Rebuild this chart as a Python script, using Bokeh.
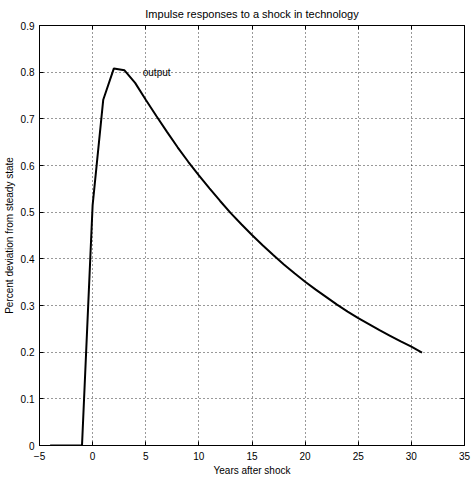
from bokeh.plotting import figure
from bokeh.models import Range1d, LinearAxis, FixedTicker, CustomJSTickFormatter, ColumnDataSource
from bokeh.core.properties import value
from bokeh.embed import file_html
from bokeh.resources import INLINE

# Data
years = [-4, -3, -2, -1, 0, 1, 2, 3, 4, 5, 6, 7, 8, 9, 10, 11, 12, 13, 14, 15,
         16, 17, 18, 19, 20, 21, 22, 23, 24, 25, 26, 27, 28, 29, 30, 31]
output = [0.0, 0.0, 0.0, 0.0, 0.515, 0.741, 0.808, 0.804, 0.777, 0.741, 0.706,
          0.672, 0.639, 0.608, 0.579, 0.551, 0.524, 0.498, 0.474, 0.451, 0.429,
          0.408, 0.388, 0.369, 0.351, 0.334, 0.318, 0.302, 0.287, 0.273, 0.260,
          0.247, 0.235, 0.223, 0.212, 0.199]
x_ticks = [-5, 0, 5, 10, 15, 20, 25, 30, 35]
y_ticks = [0, 0.1, 0.2, 0.3, 0.4, 0.5, 0.6, 0.7, 0.8, 0.9]
title_text = "Impulse responses to a shock in technology"
x_label = "Years after shock"
y_label = "Percent deviation from steady state"
annot_x = [5]
annot_y = [0.8]
annot_text = ["output"]

FONT = "Liberation Sans"
FS = "10px"

p = figure(width=472, height=478, output_backend="svg", toolbar_location=None,
           x_range=Range1d(-5, 35), y_range=Range1d(0, 0.9),
           min_border_left=38, min_border_right=8, min_border_top=24, min_border_bottom=31,
           x_axis_location="below", y_axis_location="left")

p.title.text = title_text
p.title.align = "center"
p.title.text_font = FONT
p.title.text_font_size = "11px"
p.title.text_font_style = "normal"
p.title.text_color = "black"
p.title.standoff = 11

p.background_fill_color = "white"
p.border_fill_color = "white"
p.outline_line_color = "black"
p.outline_line_width = 1

fmt_y = CustomJSTickFormatter(code="return (Math.round(tick*10)/10).toString();")


def style_axis(ax, ticks):
    ax.ticker = FixedTicker(ticks=ticks)
    ax.major_tick_in = 4
    ax.major_tick_out = 0
    ax.minor_tick_line_color = None
    ax.axis_line_color = "black"
    ax.major_tick_line_color = "black"
    ax.major_label_text_font = FONT
    ax.major_label_text_font_size = FS
    ax.major_label_text_color = "black"
    ax.axis_label_text_font = FONT
    ax.axis_label_text_font_size = FS
    ax.axis_label_text_font_style = "normal"
    ax.axis_label_text_color = "black"


def tick_only_axis(ticks):
    # an axis with only (label-free) minor ticks pointing inwards
    ax = LinearAxis(ticker=FixedTicker(ticks=[], minor_ticks=ticks))
    ax.major_tick_line_color = None
    ax.minor_tick_in = 4
    ax.minor_tick_out = 0
    ax.minor_tick_line_color = "black"
    ax.axis_line_color = "black"
    ax.major_label_standoff = 0
    return ax


xa = p.xaxis[0]
style_axis(xa, x_ticks)
xa.axis_label = x_label
xa.major_label_standoff = 6
xa.axis_label_standoff = 2

ya = p.yaxis[0]
style_axis(ya, y_ticks)
ya.formatter = fmt_y
ya.axis_label = y_label
ya.major_label_standoff = 5
ya.axis_label_standoff = 3

p.add_layout(tick_only_axis(x_ticks), "above")
p.add_layout(tick_only_axis(y_ticks), "right")

p.xgrid.ticker = FixedTicker(ticks=x_ticks)
p.ygrid.ticker = FixedTicker(ticks=y_ticks)
for g in (p.xgrid[0], p.ygrid[0]):
    g.grid_line_color = "black"
    g.grid_line_dash = "1 3"
    g.grid_line_width = 1
    g.grid_line_alpha = 0.8

src = ColumnDataSource(data=dict(x=years, y=output))
p.line("x", "y", source=src, line_color="black", line_width=2)

p.text(x=annot_x, y=annot_y, text=annot_text, text_font=value(FONT),
       text_font_size=FS, text_align="left", text_baseline="middle", text_color="black",
       x_offset=-3)

open("out.html", "w").write(file_html(p, INLINE))
